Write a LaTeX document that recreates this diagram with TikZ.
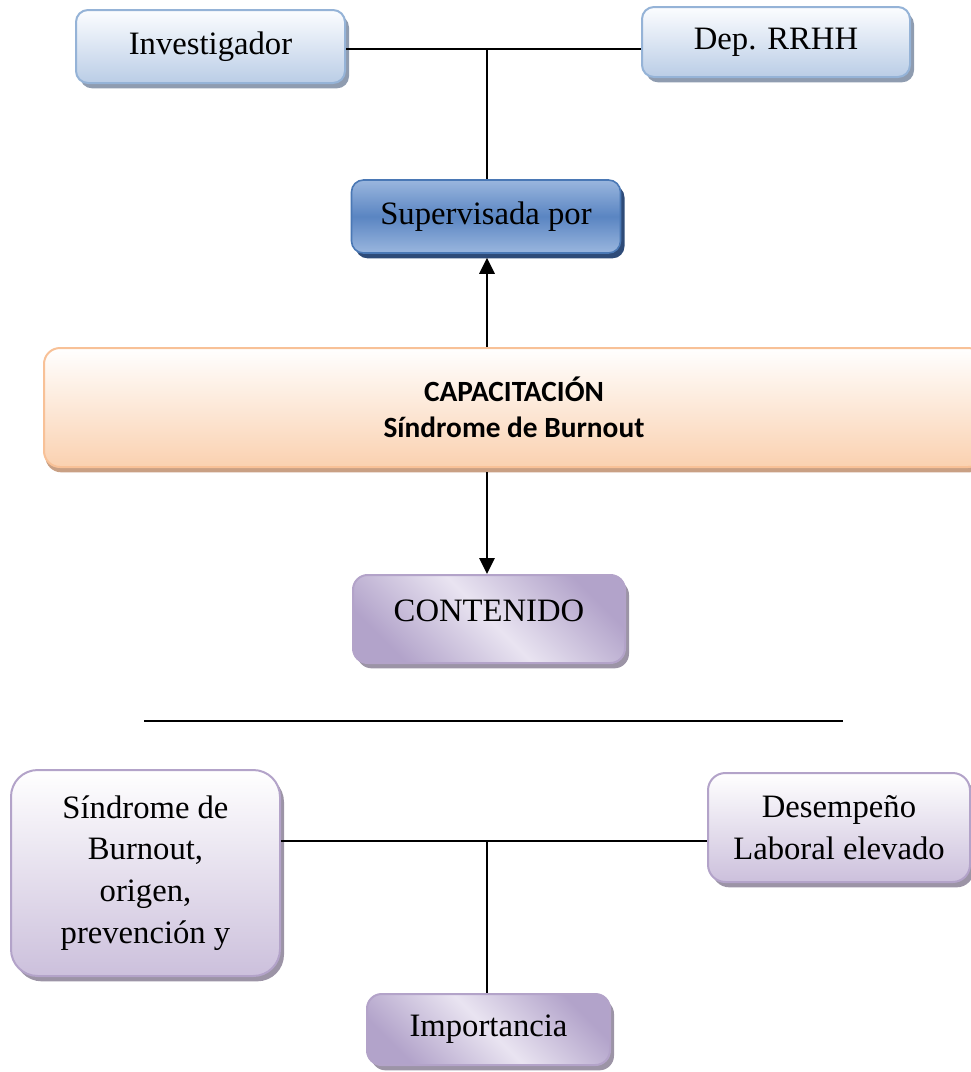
\documentclass[tikz,border=0pt]{standalone}
\usepackage{fontspec}
\setmainfont{Liberation Serif}
\newfontfamily\calibri{Carlito}
\usetikzlibrary{shadows,arrows.meta}
\definecolor{bluebd}{HTML}{95B3D7}
\definecolor{bluetop}{HTML}{FCFDFF}
\definecolor{bluebot}{HTML}{BACDE6}
\definecolor{blueshd}{HTML}{8F9CB0}
\definecolor{supbd}{HTML}{4A78B5}
\definecolor{suplt}{HTML}{9AB6DE}
\definecolor{supmid}{HTML}{5A85C2}
\definecolor{supshd}{HTML}{2E4B78}
\definecolor{capbd}{HTML}{F8C197}
\definecolor{capbot}{HTML}{FAD1B0}
\definecolor{capshd}{HTML}{C9A084}
\definecolor{purbd}{HTML}{B3A3C9}
\definecolor{purbot}{HTML}{CCC0DC}
\definecolor{purdk}{HTML}{B2A3CA}
\definecolor{purlt}{HTML}{E9E4F1}
\definecolor{purshd}{HTML}{9C94A6}
\tikzset{
  bluebox/.style={draw=bluebd, line width=1.5pt, rounded corners=9pt,
    top color=bluetop, bottom color=bluebot,
    drop shadow={shadow xshift=3pt, shadow yshift=-4pt, fill=blueshd, opacity=1},
    font=\fontsize{24.5}{30}\selectfont, inner sep=0pt},
  supbox/.style={draw=supbd, line width=1.2pt, rounded corners=9pt,
    top color=suplt, bottom color=suplt, middle color=supmid,
    drop shadow={shadow xshift=3pt, shadow yshift=-4pt, fill=supshd, opacity=1},
    font=\fontsize{24.5}{30}\selectfont, inner sep=0pt},
  capbox/.style={draw=capbd, line width=1.5pt, rounded corners=12pt,
    top color=white, bottom color=capbot,
    drop shadow={shadow xshift=1pt, shadow yshift=-4pt, fill=capshd, opacity=1},
    font=\calibri\bfseries\fontsize{22}{27}\selectfont, align=center, inner sep=0pt},
  purbox/.style={draw=purbd, line width=1.5pt, rounded corners=11pt,
    top color=white, bottom color=purbot,
    drop shadow={shadow xshift=3pt, shadow yshift=-4pt, fill=purshd, opacity=1},
    font=\fontsize{24.5}{31.3}\selectfont, align=center, inner sep=0pt},
  purdiag/.style={draw=purbd, line width=1.5pt, rounded corners=11pt,
    top color=purdk, bottom color=purdk, middle color=purlt, shading angle=-45,
    drop shadow={shadow xshift=3pt, shadow yshift=-4pt, fill=purshd, opacity=1},
    font=\fontsize{24.5}{30}\selectfont, inner sep=0pt},
  conn/.style={line width=1.3pt, black},
  connthick/.style={line width=2pt, black},
  arr/.style={line width=1.4pt, black, -{Triangle[length=12pt,width=11.5pt]}},
}
\begin{document}
\begin{tikzpicture}[x=0.75pt,y=-0.75pt]
\useasboundingbox (0,0) rectangle (971,1072);
% top row
\node[bluebox, minimum width=201.75pt, minimum height=54.75pt] (inv) at (210.5,46.5) {Investigador};
\node[bluebox, minimum width=201pt, minimum height=52.5pt] (dep) at (776,42) {Dep. RRHH};
\node[supbox, minimum width=201.75pt, minimum height=54.75pt] (sup) at (486,216.5) {Supervisada por};
\node[capbox, minimum width=705pt, minimum height=89.25pt] (cap) at (514,407.5) {CAPACITACIÓN\\Síndrome de Burnout};
\node[purdiag, minimum width=204pt, minimum height=66pt, text depth=12pt] (cont) at (489,619) {CONTENIDO};
% bottom part
\coordinate (hl1) at (144,721);
\coordinate (hl2) at (843,721);
\node[purbox, rounded corners=20pt, minimum width=201.75pt, minimum height=154.5pt] (sin) at (145.5,873) {Síndrome de\\Burnout,\\origen,\\prevención y};
\node[purbox, rounded corners=13pt, minimum width=196.5pt, minimum height=81.75pt] (des) at (839,827.5) {Desempeño\\Laboral elevado};
\node[purdiag, minimum width=182.25pt, minimum height=53.25pt] (imp) at (488.5,1029.5) {Importancia};
% connectors
\coordinate (j1) at (487,49);
\coordinate (j2) at (487,841);
\draw[conn] (inv.east |- j1) -- (dep.west |- j1);
\draw[conn] (j1) -- (j1 |- sup.north);
\draw[arr] (cap.north -| j1) -- ([yshift=-3pt]sup.south -| j1);
\draw[arr] ([yshift=-3pt]cap.south -| j1) -- (cont.north -| j1);
\draw[connthick] (hl1) -- (hl2);
\draw[connthick] (sin.east |- j2) -- (des.west |- j2);
\draw[conn] (j2) -- (j2 |- imp.north);
\end{tikzpicture}
\end{document}
